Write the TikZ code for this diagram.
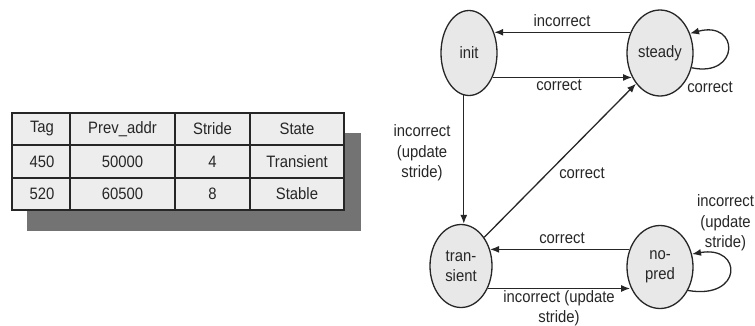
\documentclass[tikz,border=0pt]{standalone}
\usepackage{fontspec}
\setmainfont{Liberation Sans}[FakeStretch=0.9]
\usetikzlibrary{shapes.geometric,arrows.meta}
\begin{document}
\begin{tikzpicture}[x=1pt,y=-1pt,
  txt/.style={font=\fontsize{16.5}{20.5}\selectfont, text=black!85, inner sep=0pt, align=center},
  cell/.style={txt},
  st/.style={ellipse, draw=black!85, fill=black!9, line width=1.3pt, inner sep=0pt,
    font=\fontsize{16.5}{20.5}\selectfont, text=black!85, align=center},
  arr/.style={draw=black!85, line width=1.3pt, -{Latex[length=9pt,width=7pt]}},
  grid/.style={draw=black!85, line width=1.2pt},
]
\useasboundingbox (0,0) rectangle (755,325);

% table
\fill[black!55] (27,133) rectangle (361,231);
\filldraw[grid, fill=black!7] (12,113) rectangle (344,210);
\draw[grid] (12,145) -- (344,145);
\draw[grid] (12,178) -- (344,178);
\draw[grid] (70,113) -- (70,210);
\draw[grid] (175,113) -- (175,210);
\draw[grid] (250,113) -- (250,210);

\node[cell] (h1) at (42,129) {Tag};
\node[cell] (h2) at (122.5,129) {Prev\_addr};
\node[cell] (h3) at (212.5,129) {Stride};
\node[cell] (h4) at (297,129) {State};
\node[cell] (a1) at (42,161.5) {450};
\node[cell] (a2) at (122.5,161.5) {50000};
\node[cell] (a3) at (212.5,161.5) {4};
\node[cell] (a4) at (297,161.5) {Transient};
\node[cell] (b1) at (42,194) {520};
\node[cell] (b2) at (122.5,194) {60500};
\node[cell] (b3) at (212.5,194) {8};
\node[cell] (b4) at (297,194) {Stable};

% states
\node[st, minimum width=56pt, minimum height=85pt] (init) at (469,53) {init};
\node[st, minimum width=66pt, minimum height=86pt] (steady) at (660,53) {steady};
\node[st, minimum width=62pt, minimum height=83pt] (trans) at (461,266) {tran-\\sient};
\node[st, minimum width=66pt, minimum height=83pt] (np) at (660,267) {no-\\pred};

% transitions
\draw[arr] (steady.145.6) -- (steady.145.6 -| init.39);
\draw[arr] (init.-46) -- (init.-46 -| steady.221);
\draw[arr] (init.263) -- (init.263 |- trans.north);
\draw[arr] (trans.51) -- (steady.232);
\draw[arr] (np.150.5) -- (np.150.5 -| trans.30);
\draw[arr] (trans.-40) -- (trans.-40 -| np.213);
\draw[arr] (steady.-25) .. controls (740,78) and (740,20) .. (steady.33);
\draw[arr] (np.-40) .. controls (743,300) and (743,245) .. (np.22);

% labels
\node[txt] (l1) at (562,21) {incorrect};
\node[txt] (l2) at (559,85) {correct};
\node[txt] (l3) at (710,87) {correct};
\node[txt] (l4) at (422,153) {incorrect\\(update\\stride)};
\node[txt] (l5) at (582,173) {correct};
\node[txt] (l6) at (562,238) {correct};
\node[txt] (l7) at (559,308) {incorrect (update\\stride)};
\node[txt] (l8) at (725.5,223) {incorrect\\(update\\stride)};
\end{tikzpicture}
\end{document}
